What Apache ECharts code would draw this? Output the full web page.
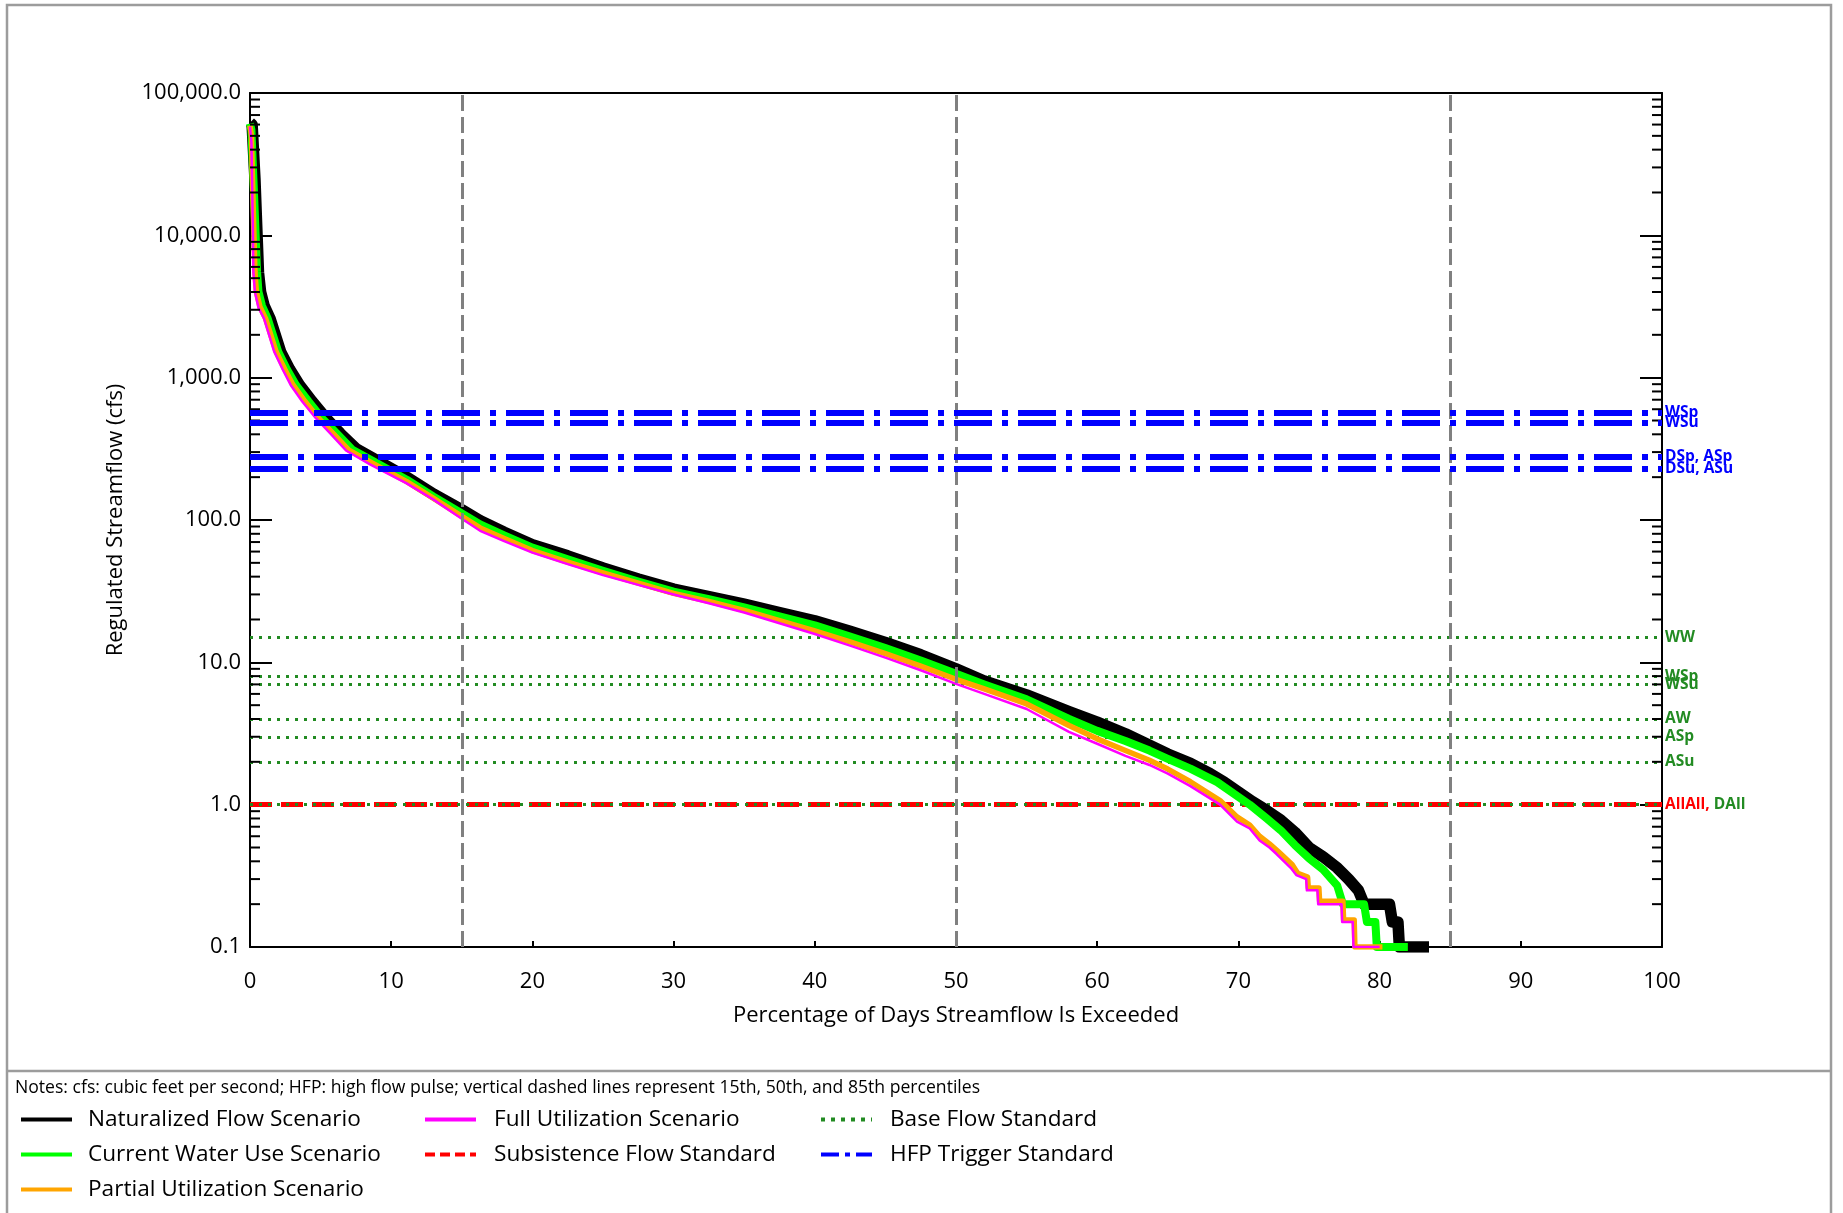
<!DOCTYPE html>
<html>
<head>
<meta charset="utf-8">
<script src="https://cdn.jsdelivr.net/npm/echarts@6/dist/echarts.min.js"></script>
<style>
  html, body { margin: 0; padding: 0; background: #fff; }
  #chart { width: 1843px; height: 1213px; }
</style>
</head>
<body>
<div id="chart"></div>
<script>
// ---------------- DATA ----------------
// [percentage of days exceeded, regulated streamflow (cfs)]
const naturalizedFlow = [
  [0, 62000], [0.15, 60000], [0.35, 25000], [0.5, 10000], [0.6, 5500], [0.75, 4000],
  [1.0, 3200], [1.42, 2600], [2.17, 1520], [2.8, 1150], [3.49, 890], [4.4, 680],
  [5.38, 519], [6.4, 405], [7.55, 315], [9, 262], [11.1, 200], [13, 152], [15, 118],
  [16.3, 99], [18, 82], [20, 67], [22.5, 56], [25, 46], [27.5, 38.5], [30, 32.7],
  [32.5, 29], [35, 25.6], [37.5, 22.4], [40, 19.6], [42.5, 16.5], [45, 13.8],
  [47.5, 11.3], [50, 9.0], [52, 7.4], [55, 5.9], [58, 4.5], [60, 3.8], [62, 3.15],
  [65, 2.27], [66.6, 1.95], [68, 1.65], [69, 1.44], [70, 1.23], [71, 1.05], [72, 0.91],
  [73, 0.78], [74, 0.64], [75, 0.5], [76, 0.43], [77, 0.36], [77.8, 0.3], [78.5, 0.25],
  [78.9, 0.2], [80.7, 0.2], [80.9, 0.15], [81.3, 0.15], [81.4, 0.1], [83.5, 0.1]
];
const currentWaterUse = [
  [0, 61000], [0.1, 55000], [0.3, 18000], [0.5, 5530], [0.6, 4010], [0.85, 3200],
  [1.25, 2610], [2.0, 1520], [2.6, 1150], [3.25, 889], [4.15, 680], [5.1, 519],
  [6.15, 405], [7.25, 312], [8.8, 257], [11.1, 192], [13, 146], [15, 111], [16.3, 93],
  [18, 78], [20, 64], [22.5, 53], [25, 44], [27.5, 37], [30, 31.4], [32.5, 27.8],
  [35, 24.3], [37.5, 21], [40, 18.2], [42.5, 15.2], [45, 12.6], [47.5, 10.3], [50, 8.3],
  [52, 7.0], [55, 5.5], [58, 4.0], [60, 3.3], [62, 2.8], [63.7, 2.4], [65, 2.1],
  [66.6, 1.79], [68.5, 1.44], [70.8, 1.0], [72, 0.8], [73, 0.66], [74, 0.52], [75, 0.42],
  [76, 0.35], [77, 0.27], [77.4, 0.2], [78.9, 0.2], [79.1, 0.15], [79.7, 0.15],
  [79.8, 0.1], [82, 0.1]
];
const partialUtilization = [
  [0, 59000], [0.1, 50000], [0.25, 13000], [0.35, 5530], [0.45, 4010], [0.7, 3150],
  [1.1, 2610], [1.85, 1520], [2.45, 1150], [3.05, 889], [3.9, 680], [4.85, 519],
  [5.9, 405], [7.0, 310], [8.7, 250], [11.1, 186], [13, 142], [15, 106], [16.3, 88],
  [18, 74], [20, 61], [22.5, 50.5], [25, 42.5], [27.5, 36], [30, 30.5], [32.5, 26.8],
  [35, 23.2], [37.5, 19.6], [40, 16.6], [42.5, 13.9], [45, 11.5], [47.5, 9.4], [50, 7.6],
  [52, 6.5], [55, 5.1], [58, 3.6], [60, 2.9], [62, 2.4], [63.7, 2.05], [65, 1.78],
  [66.6, 1.45], [68.7, 1.07], [69.9, 0.82], [70.8, 0.72], [71.5, 0.6], [72.2, 0.53],
  [72.8, 0.47], [73.8, 0.38], [74.2, 0.33], [74.9, 0.31], [74.95, 0.26], [75.7, 0.26],
  [75.75, 0.21], [77.4, 0.21], [77.45, 0.155], [78.2, 0.155], [78.25, 0.1], [80.2, 0.1]
];
const fullUtilization = [
  [0, 58000], [0.1, 45000], [0.2, 12000], [0.24, 5530], [0.35, 4010], [0.6, 3100],
  [0.99, 2610], [1.72, 1520], [2.3, 1150], [2.88, 889], [3.7, 680], [4.67, 519],
  [5.7, 405], [6.8, 308], [8.5, 246], [11.1, 181], [13, 139], [15, 102], [16.3, 84],
  [18, 71], [20, 59], [22.5, 49], [25, 41], [27.5, 35], [30, 30], [32.5, 26], [35, 22.4],
  [37.5, 18.8], [40, 15.8], [42.5, 13.1], [45, 10.8], [47.5, 8.8], [50, 7.05], [52, 6.0],
  [55, 4.7], [58, 3.25], [60, 2.68], [62, 2.2], [63.7, 1.9], [65, 1.65], [66.6, 1.35],
  [68.7, 1.0], [69.9, 0.76], [70.8, 0.68], [71.5, 0.56], [72.2, 0.5], [72.7, 0.45],
  [73.7, 0.36], [74.1, 0.32], [74.8, 0.3], [74.85, 0.25], [75.6, 0.25], [75.65, 0.2],
  [77.3, 0.2], [77.35, 0.15], [78.1, 0.15], [78.15, 0.1], [80.0, 0.1]
];

const hfpValues = [568, 483, 279, 229];
const hfpLabels = ['WSp', 'WSu', 'DSp, ASp', 'DSu, ASu'];
const baseFlowValues = [15, 8, 7, 4, 3, 2, 1];
const baseFlowLabels = ['WW', 'WSp', 'WSu', 'AW', 'ASp', 'ASu', 'DAll'];
const subsistenceValues = [1];
const subsistenceLabels = ['AllAll,'];
const percentileLines = [15, 50, 85];
const minorTickValues = [];
[0.1, 1, 10, 100, 1000, 10000].forEach(d => { for (let m = 2; m <= 9; m++) minorTickValues.push(+(m * d).toPrecision(3)); });

const seriesNames = ['Naturalized Flow Scenario', 'Current Water Use Scenario', 'Partial Utilization Scenario',
  'Full Utilization Scenario', 'Subsistence Flow Standard', 'Base Flow Standard', 'HFP Trigger Standard'];
const notesText = 'Notes: cfs: cubic feet per second; HFP: high flow pulse; vertical dashed lines represent 15th, 50th, and 85th percentiles';

// ---------------- STYLE ----------------
const FONT = 'Open Sans';
const GREEN = '#228B22';
const chart = echarts.init(document.getElementById('chart'), null, { renderer: 'canvas' });

function curve(name, data, color, width, z) {
  return {
    name, type: 'line', data, symbol: 'none', showSymbol: false, z,
    lineStyle: { color, width, join: 'round', cap: 'butt' },
    itemStyle: { color }, animation: false, silent: true
  };
}
const stdLabel = (color) => ({
  show: true, position: 'end', distance: 3, formatter: '{b}',
  color, fontWeight: 'bold', fontSize: 15.5, fontFamily: FONT
});

const labelFormatter = v => Number(v).toLocaleString('en-US', { minimumFractionDigits: 1, maximumFractionDigits: 1 });

const option = {
  animation: false,
  backgroundColor: '#ffffff',
  grid: { left: 250, right: 181, top: 93, bottom: 266, containLabel: false },
  xAxis: [{
    type: 'value', min: 0, max: 100, interval: 10, position: 'bottom',
    axisLine: { show: true, onZero: false, lineStyle: { color: '#000', width: 2 } },
    axisTick: { show: true, inside: true, length: 6, lineStyle: { color: '#000', width: 2 } },
    axisLabel: { color: '#000', fontSize: 22, fontFamily: FONT, margin: 24 },
    splitLine: { show: false },
    name: 'Percentage of Days Streamflow Is Exceeded', nameLocation: 'middle', nameGap: 58,
    nameTextStyle: { color: '#000', fontSize: 22, fontFamily: FONT }
  }, {
    type: 'value', min: 0, max: 100, position: 'top',
    axisLine: { show: true, onZero: false, lineStyle: { color: '#000', width: 2 } },
    axisTick: { show: false }, axisLabel: { show: false }, splitLine: { show: false }
  }],
  yAxis: [{
    type: 'log', logBase: 10, min: 0.1, max: 100000, splitNumber: 6, position: 'left',
    axisLine: { show: true, onZero: false, lineStyle: { color: '#000', width: 2 } },
    axisTick: { show: true, inside: true, length: 22, lineStyle: { color: '#000', width: 2 } },
    axisLabel: { color: '#000', fontSize: 22, fontFamily: FONT, margin: 9, formatter: labelFormatter },
    splitLine: { show: false }, minorTick: { show: false },
    name: 'Regulated Streamflow (cfs)', nameLocation: 'middle', nameGap: 123,
    nameTextStyle: { color: '#000', fontSize: 22, fontFamily: FONT }
  }, {
    type: 'log', logBase: 10, min: 0.1, max: 100000, splitNumber: 6, position: 'right',
    axisLine: { show: true, onZero: false, lineStyle: { color: '#000', width: 2 } },
    axisTick: { show: true, inside: true, length: 22, lineStyle: { color: '#000', width: 2 } },
    axisLabel: { show: false }, splitLine: { show: false }
  }],
  legend: [
    { data: seriesNames.slice(0, 3) },
    { data: seriesNames.slice(3, 5) },
    { data: seriesNames.slice(5, 7) }
  ].map((l, i) => Object.assign(l, {
    orient: 'vertical', left: [19, 423, 819][i], top: 1108, padding: 0,
    itemWidth: 51, itemHeight: 14, itemGap: 12, selectedMode: false,
    lineStyle: { width: 4 },
    itemStyle: { opacity: 0 },
    textStyle: { color: '#000', fontSize: 22.6, fontFamily: FONT, padding: [0, 0, 0, [11, 13, 13][i]] }
  })),
  graphic: [
    { type: 'rect', shape: { x: 7, y: 5, width: 1824, height: 1240 }, style: { fill: 'none', stroke: '#9c9c9c', lineWidth: 2.5 }, silent: true },
    { type: 'line', shape: { x1: 7, y1: 1071, x2: 1831, y2: 1071 }, style: { stroke: '#9c9c9c', lineWidth: 2.5 }, silent: true },
    { type: 'text', left: 15, top: 1079, style: { text: notesText, fill: '#000', font: '17.6px "Open Sans"' }, silent: true }
  ],
  series: [
    // percentile reference lines
    {
      name: 'percentiles', type: 'line', data: [], symbol: 'none', silent: true,
      markLine: {
        z: 15, silent: true, symbol: ['none', 'none'], animation: false, label: { show: false },
        lineStyle: { color: '#808080', width: 3, type: [16, 6] },
        data: percentileLines.map(v => ({ xAxis: v }))
      }
    },
    // Subsistence
    {
      name: seriesNames[4], type: 'line', data: [], symbol: 'none', silent: true,
      lineStyle: { color: '#FF0000', width: 4, type: [10, 5] }, itemStyle: { color: '#FF0000' },
      markLine: {
        z: 4, silent: true, symbol: ['none', 'none'], animation: false,
        lineStyle: { color: '#FF0000', width: 5, type: [22, 9] },
        label: stdLabel('#FF0000'),
        data: subsistenceValues.map((v, i) => ({ yAxis: v, name: subsistenceLabels[i] }))
      }
    },
    // Base flow
    {
      name: seriesNames[5], type: 'line', data: [], symbol: 'none', silent: true,
      lineStyle: { color: GREEN, width: 4, type: [4, 6] }, itemStyle: { color: GREEN },
      markLine: {
        z: 5, silent: true, symbol: ['none', 'none'], animation: false,
        lineStyle: { color: GREEN, width: 3, type: [3, 6] },
        label: stdLabel(GREEN),
        data: baseFlowValues.map((v, i) => {
          const item = { yAxis: v, name: baseFlowLabels[i] };
          if (subsistenceValues.indexOf(v) >= 0) {
            item.label = {
              formatter: '{pad|' + subsistenceLabels[subsistenceValues.indexOf(v)] + ' }' + baseFlowLabels[i],
              rich: { pad: { color: 'rgba(0,0,0,0)', fontWeight: 'bold', fontSize: 15.5, fontFamily: FONT } }
            };
          }
          return item;
        })
      }
    },
    curve(seriesNames[0], naturalizedFlow, '#000000', 11.5, 10),
    curve(seriesNames[1], currentWaterUse, '#00FF00', 8, 11),
    curve(seriesNames[2], partialUtilization, '#FFA500', 5.5, 12),
    curve(seriesNames[3], fullUtilization, '#FF00FF', 2.5, 13),
    // HFP
    {
      name: seriesNames[6], type: 'line', data: [], symbol: 'none', silent: true,
      lineStyle: { color: '#0000FF', width: 4, type: [18, 6, 5, 6] }, itemStyle: { color: '#0000FF' },
      markLine: {
        z: 20, silent: true, symbol: ['none', 'none'], animation: false,
        lineStyle: { color: '#0000FF', width: 6, type: [38, 10, 6, 10] },
        label: stdLabel('#0000FF'),
        data: hfpValues.map((v, i) => ({ yAxis: v, name: hfpLabels[i] }))
      }
    },
    // minor log ticks (left and right, inside)
    {
      name: 'minorTicks', type: 'custom', coordinateSystem: 'cartesian2d', silent: true, z: 16, clip: false,
      data: minorTickValues.map(v => [0, v]), encode: { x: 0, y: 1 },
      renderItem: (params, api) => {
        const y = api.coord([0, api.value(1)])[1];
        const cs = params.coordSys;
        return {
          type: 'group', children: [
            { type: 'line', shape: { x1: cs.x, y1: y, x2: cs.x + 10, y2: y }, style: { stroke: '#000', lineWidth: 2 } },
            { type: 'line', shape: { x1: cs.x + cs.width - 10, y1: y, x2: cs.x + cs.width, y2: y }, style: { stroke: '#000', lineWidth: 2 } }
          ]
        };
      }
    }
  ]
};
chart.setOption(option);
</script>
</body>
</html>
